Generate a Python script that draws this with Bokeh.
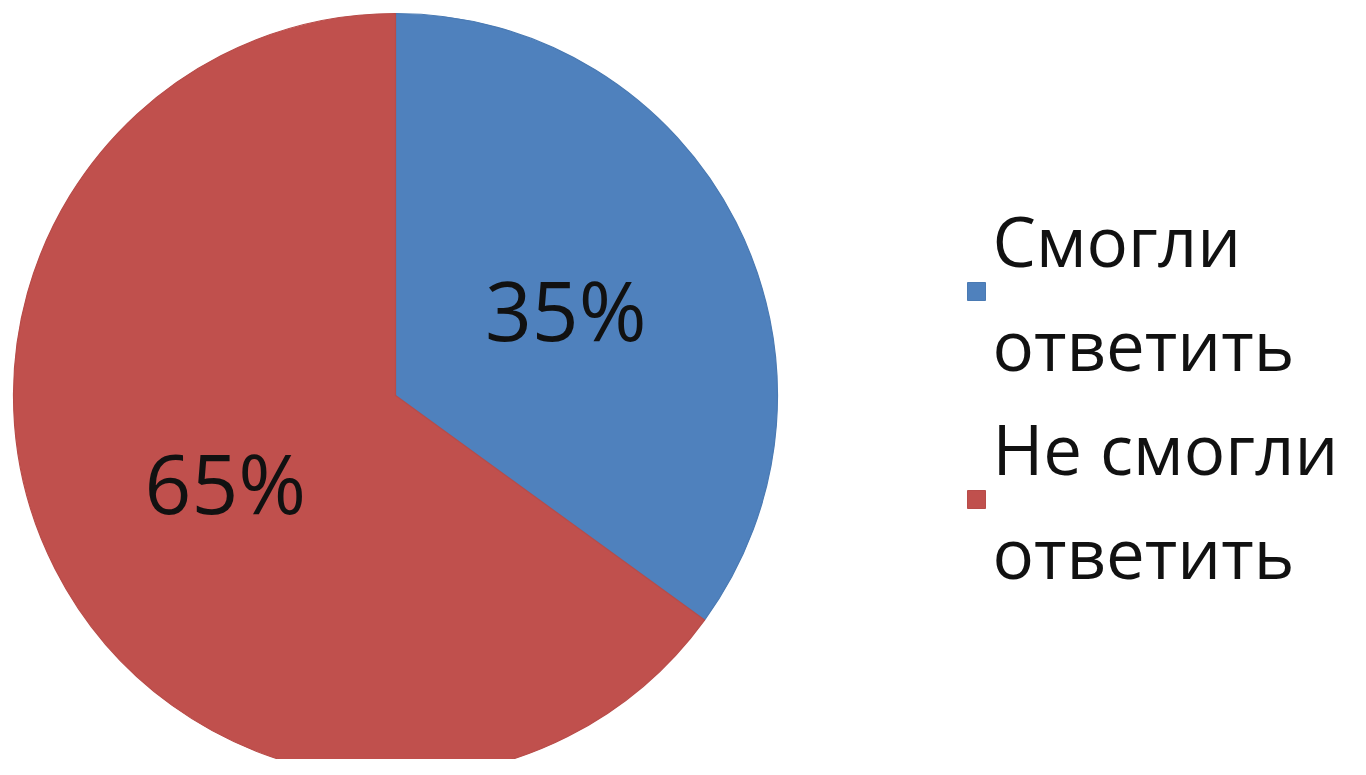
import numpy as np
from bokeh.plotting import figure
from bokeh.models import Range1d, ColumnDataSource
from bokeh.core.properties import value
from bokeh.embed import file_html
from bokeh.resources import INLINE

categories = ["Смогли ответить", "Не смогли ответить"]
legend_lines = [["Смогли", "ответить"], ["Не смогли", "ответить"]]
shares = [35, 65]
labels = ["35%", "65%"]
colors = ["#4F81BD", "#C0504D"]
borders = ["#4A7AB3", "#B84C49"]

W, H = 1350, 759
p = figure(width=W, height=H, output_backend="svg", toolbar_location=None,
           x_range=Range1d(0, W), y_range=Range1d(775 - H, 775),
           min_border=0, outline_line_color=None)
p.axis.visible = False
p.grid.visible = False
p.background_fill_color = "white"

cx, cy, r = 395, 775 - 395, 382
frac = np.array(shares, dtype=float) / sum(shares)
cum = np.concatenate([[0], np.cumsum(frac)])
start = np.pi / 2 - cum[1:] * 2 * np.pi
end = np.pi / 2 - cum[:-1] * 2 * np.pi
src = ColumnDataSource(dict(start=start, end=end, color=colors, line=borders))
p.wedge(x=cx, y=cy, radius=r, start_angle="start", end_angle="end",
        fill_color="color", line_color="line", line_width=1.2, source=src)

# percentage labels
mid = (start + end) / 2
lr = 0.5 * r
lx = [cx + lr * np.cos(mid[i]) for i in range(2)]
ly = [cy + lr * np.sin(mid[i]) for i in range(2)]
p.text(x=lx, y=ly, text=labels, text_font=value("Open Sans"), text_font_size="82px",
       text_align="center", text_baseline="middle", text_color="#111111")

# legend
fs = 69
lg_x, step, line_gap = 992, 208, 104
first_baseline = 775 - 268
for i, lines in enumerate(legend_lines):
    base = first_baseline - i * step
    p.text(x=[lg_x] * len(lines),
           y=[base - j * line_gap + 0.42 * fs for j in range(len(lines))],
           text=lines, text_font=value("Open Sans"), text_font_size=f"{fs}px",
           text_align="left", text_baseline="middle", text_color="#111111")
    p.scatter(x=[976], y=[base - 23], marker="square", size=18,
              fill_color=colors[i], line_color=borders[i])

open("out.html", "w").write(file_html(p, INLINE))
